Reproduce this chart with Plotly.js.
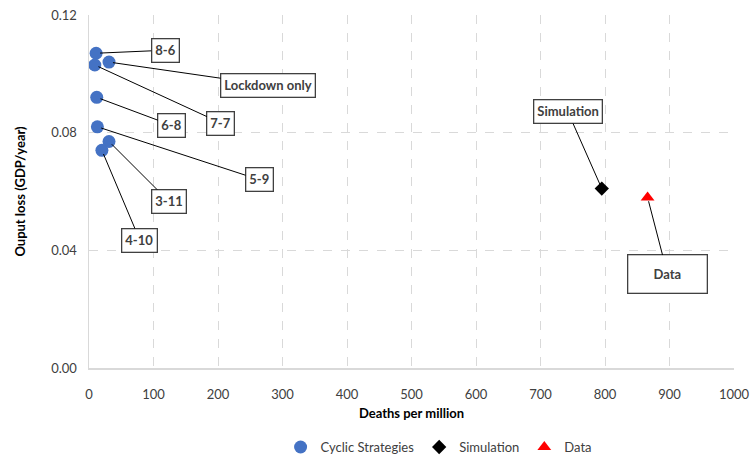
<!DOCTYPE html>
<html>
<head>
<meta charset="utf-8">
<script src="https://cdn.plot.ly/plotly-3.0.1.min.js"></script>
<style>html,body{margin:0;padding:0;background:#fff}#chart{width:754px;height:459px}</style>
</head>
<body>
<div id="chart"></div>
<script>
// Cyclic strategies
const cyclicLabels = ["8-6", "Lockdown only", "7-7", "6-8", "5-9", "3-11", "4-10"];
const cyclicDeaths = [11, 31, 9, 12, 13, 31, 20];
const cyclicLoss = [0.107, 0.104, 0.103, 0.092, 0.082, 0.077, 0.074];
// Simulation
const simDeaths = [795];
const simLoss = [0.061];
// Data
const dataDeaths = [866];
const dataLoss = [0.058];
// Label offsets (pixels) for the callout boxes
const labelOffsetsX = [69, 159, 126, 75, 162, 60, 38];
const labelOffsetsY = [-3, 23, 58, 28, 53, 60, 90];

const FONT = "Lato, 'Open Sans', sans-serif";
const textCol = "#404040";

const traces = [
  {x: cyclicDeaths, y: cyclicLoss, mode: "markers", type: "scatter", name: "Cyclic Strategies",
   marker: {color: "#4472C4", size: 13, symbol: "circle"}},
  {x: simDeaths, y: simLoss, mode: "markers", type: "scatter", name: "Simulation",
   marker: {color: "#000000", size: 11, symbol: "diamond"}},
  {x: dataDeaths, y: dataLoss, mode: "markers", type: "scatter", name: "Data",
   marker: {color: "#FF0000", size: 12, symbol: "triangle-up"}}
];

function box(x, y, text, ax, ay, extra) {
  return Object.assign({
    x: x, y: y, xref: "x", yref: "y", text: "<b>" + text + "</b>",
    showarrow: true, arrowhead: 0, arrowwidth: 1, arrowcolor: "#000",
    ax: ax, ay: ay, standoff: 4,
    bgcolor: "#fff", bordercolor: "#404040", borderwidth: 1.3, borderpad: 3,
    font: {family: FONT, size: 13, color: textCol}
  }, extra || {});
}

const annotations = cyclicLabels.map((t, i) => box(cyclicDeaths[i], cyclicLoss[i], t, labelOffsetsX[i], labelOffsetsY[i]));
annotations.push(box(simDeaths[0], simLoss[0], "Simulation", -34, -77));
annotations.push(box(dataDeaths[0], dataLoss[0], "Data", 20, 77, {width: 72, height: 31}));

const layout = {
  width: 754, height: 459,
  margin: {l: 89, r: 20, t: 15, b: 91, autoexpand: false},
  paper_bgcolor: "#fff", plot_bgcolor: "#fff",
  font: {family: FONT, size: 13, color: textCol},
  showlegend: true,
  legend: {orientation: "h", x: 0.542, xanchor: "center", y: -0.224, yanchor: "middle",
           itemwidth: 30, tracegroupgap: 0,
           font: {family: FONT, size: 13, color: textCol}},
  xaxis: {
    range: [0, 1000], dtick: 100, tick0: 0, automargin: false,
    showgrid: true, gridcolor: "#d9d9d9", griddash: "dash", gridwidth: 1,
    showline: true, linecolor: "#d9d9d9", linewidth: 1.5,
    zeroline: false, ticks: "", ticklabelstandoff: 14,
    tickfont: {family: FONT, size: 13, color: textCol},
    title: {text: "<b>Deaths per million</b>", font: {family: FONT, size: 13, color: "#000"}, standoff: 8}
  },
  yaxis: {
    range: [0, 0.12], dtick: 0.04, tick0: 0, tickformat: ".2f", automargin: false,
    showgrid: true, gridcolor: "#d9d9d9", griddash: "dash", gridwidth: 1,
    showline: true, linecolor: "#d9d9d9", linewidth: 1.5,
    zeroline: false, ticks: "", ticklabelstandoff: 8,
    tickfont: {family: FONT, size: 13, color: textCol},
    title: {text: "<b>Ouput loss (GDP/year)</b>", font: {family: FONT, size: 13, color: "#000"}, standoff: 22}
  },
  annotations: annotations
};

Plotly.newPlot("chart", traces, layout, {displayModeBar: false, staticPlot: true});
</script>
</body>
</html>
